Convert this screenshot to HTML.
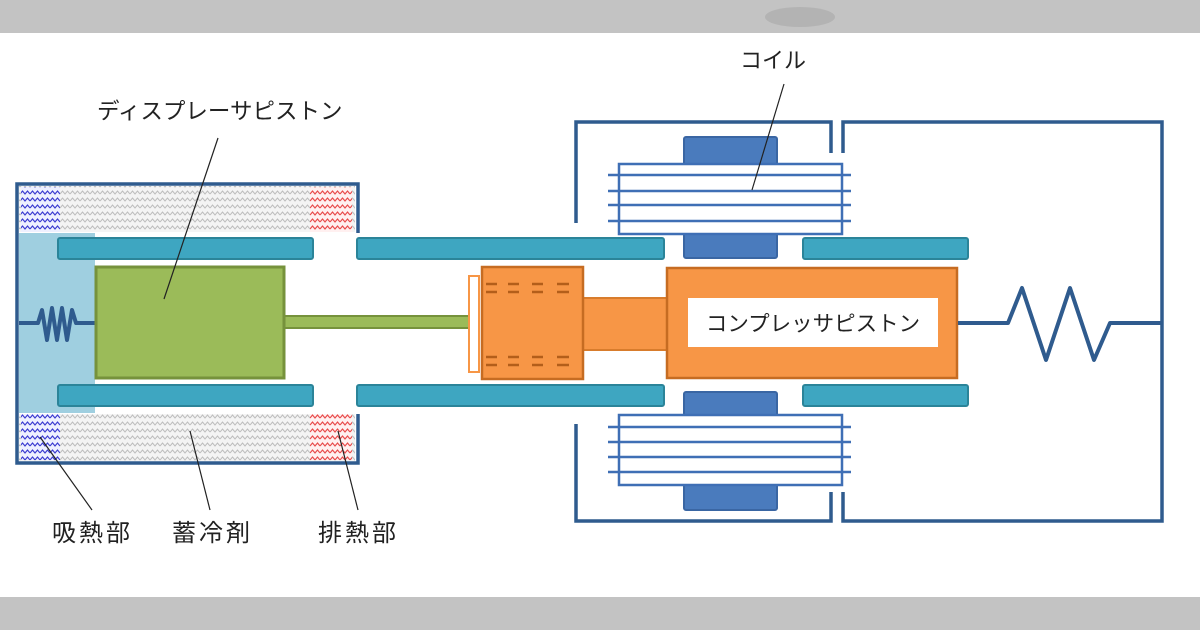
<!DOCTYPE html>
<html><head><meta charset="utf-8"><style>
html,body{margin:0;padding:0;background:#fff;width:1200px;height:630px;overflow:hidden}
text{font-family:"Liberation Sans","Noto Sans CJK JP",sans-serif;fill:#222}
</style></head><body>
<svg width="1200" height="630" viewBox="0 0 1200 630" xmlns="http://www.w3.org/2000/svg">
<defs>
<pattern id="zg" width="10" height="7" patternUnits="userSpaceOnUse"><rect width="10" height="7" fill="#f4f4f4"/><polyline points="0,5 2.5,2 5,5 7.5,2 10,5" fill="none" stroke="#bdbdbd" stroke-width="1"/></pattern>
<pattern id="zb" width="10" height="7" patternUnits="userSpaceOnUse"><rect width="10" height="7" fill="#eef0ff"/><polyline points="0,5 2.5,2 5,5 7.5,2 10,5" fill="none" stroke="#3a3ad0" stroke-width="1.2"/></pattern>
<pattern id="zr" width="10" height="7" patternUnits="userSpaceOnUse"><rect width="10" height="7" fill="#fff0f0"/><polyline points="0,5 2.5,2 5,5 7.5,2 10,5" fill="none" stroke="#e84a4a" stroke-width="1.2"/></pattern>
</defs>
<rect x="0" y="0" width="1200" height="33" fill="#c3c3c3"/>
<rect x="0" y="597" width="1200" height="33" fill="#c3c3c3"/>
<ellipse cx="800" cy="17" rx="35" ry="10" fill="#a8a8a8" opacity="0.6"/>

<rect x="19" y="233" width="76" height="180" fill="#9fcfe0"/>
<rect x="19" y="186" width="336" height="46" fill="url(#zg)"/>
<rect x="19" y="414" width="336" height="47" fill="url(#zg)"/>
<rect x="21" y="187" width="39" height="45" fill="url(#zb)"/>
<rect x="21" y="414" width="39" height="46" fill="url(#zb)"/>
<rect x="310" y="187" width="42" height="45" fill="url(#zr)"/>
<rect x="310" y="414" width="42" height="46" fill="url(#zr)"/>
<polyline points="358,233 358,184 17,184 17,463 358,463 358,414" fill="none" stroke="#2f5b8e" stroke-width="3.5"/>

<g fill="#3ea6c1" stroke="#2b8499" stroke-width="2">
<rect x="58" y="238" width="255" height="21" rx="2"/>
<rect x="58" y="385" width="255" height="21" rx="2"/>
<rect x="357" y="238" width="307" height="21" rx="2"/>
<rect x="357" y="385" width="307" height="21" rx="2"/>
<rect x="803" y="238" width="165" height="21" rx="2"/>
<rect x="803" y="385" width="165" height="21" rx="2"/>
</g>

<polyline points="19,323 38,323 42,310 47,340 52,308 57,340 62,308 67,340 72,310 76,323 96,323" fill="none" stroke="#2f5b8e" stroke-width="4" stroke-linejoin="round"/>

<rect x="284" y="316" width="188" height="12" fill="#9bbb59" stroke="#76923c" stroke-width="2"/>
<rect x="96" y="267" width="188" height="111" fill="#9bbb59" stroke="#76923c" stroke-width="3"/>

<g fill="none" stroke="#2f5b8e" stroke-width="3.5">
<polyline points="576,223 576,122 831,122 831,153"/>
<polyline points="843,153 843,122 1162,122 1162,521 843,521 843,492"/>
<polyline points="576,424 576,521 831,521 831,492"/>
</g>

<rect x="684" y="137" width="93" height="121" rx="2" fill="#4a7bbd" stroke="#3a66a3" stroke-width="2"/>
<rect x="684" y="392" width="93" height="118" rx="2" fill="#4a7bbd" stroke="#3a66a3" stroke-width="2"/>
<g stroke="#3f6fb5" stroke-width="2.5" fill="#fff">
<rect x="619" y="164" width="223" height="70"/>
<rect x="619" y="415" width="223" height="70"/>
<line x1="608" y1="175" x2="851" y2="175"/><line x1="608" y1="191" x2="851" y2="191"/><line x1="608" y1="205" x2="851" y2="205"/><line x1="608" y1="221" x2="851" y2="221"/>
<line x1="608" y1="427" x2="851" y2="427"/><line x1="608" y1="442" x2="851" y2="442"/><line x1="608" y1="457" x2="851" y2="457"/><line x1="608" y1="472" x2="851" y2="472"/>
</g>

<rect x="469" y="276" width="10" height="96" fill="#fff" stroke="#f79646" stroke-width="2"/>
<rect x="583" y="298" width="86" height="52" fill="#f79646" stroke="#d87c2c" stroke-width="2"/>
<rect x="482" y="267" width="101" height="112" fill="#f79646" stroke="#c66c22" stroke-width="2.5"/>
<g stroke="#b35e1a" stroke-width="2.5">
<line x1="486" y1="284" x2="497" y2="284"/><line x1="508" y1="284" x2="519" y2="284"/><line x1="532" y1="284" x2="543" y2="284"/><line x1="557" y1="284" x2="569" y2="284"/>
<line x1="486" y1="292" x2="497" y2="292"/><line x1="508" y1="292" x2="519" y2="292"/><line x1="532" y1="292" x2="543" y2="292"/><line x1="557" y1="292" x2="569" y2="292"/>
<line x1="486" y1="357" x2="497" y2="357"/><line x1="508" y1="357" x2="519" y2="357"/><line x1="532" y1="357" x2="543" y2="357"/><line x1="557" y1="357" x2="569" y2="357"/>
<line x1="486" y1="365" x2="497" y2="365"/><line x1="508" y1="365" x2="519" y2="365"/><line x1="532" y1="365" x2="543" y2="365"/><line x1="557" y1="365" x2="569" y2="365"/>
</g>
<rect x="667" y="268" width="290" height="110" fill="#f79646" stroke="#c66c22" stroke-width="2.5"/>
<rect x="688" y="298" width="250" height="49" fill="#fff"/>
<text x="813" y="331" font-size="21.5" text-anchor="middle">コンプレッサピストン</text>

<polyline points="958,323 1008,323 1022,288 1046,360 1070,288 1094,360 1110,323 1162,323" fill="none" stroke="#2f5b8e" stroke-width="4" stroke-linejoin="round"/>

<g stroke="#222" stroke-width="1.2">
<line x1="218" y1="138" x2="164" y2="299"/>
<line x1="784" y1="84" x2="752" y2="190"/>
<line x1="40" y1="437" x2="92" y2="510"/>
<line x1="190" y1="431" x2="210" y2="510"/>
<line x1="338" y1="431" x2="358" y2="510"/>
</g>
<text x="97" y="119" font-size="22.5">ディスプレーサピストン</text>
<text x="740" y="68" font-size="22">コイル</text>
<text x="52" y="541" font-size="24" textLength="78">吸熱部</text>
<text x="172" y="541" font-size="24" textLength="78">蓄冷剤</text>
<text x="318" y="541" font-size="24" textLength="78">排熱部</text>
</svg>
</body></html>
